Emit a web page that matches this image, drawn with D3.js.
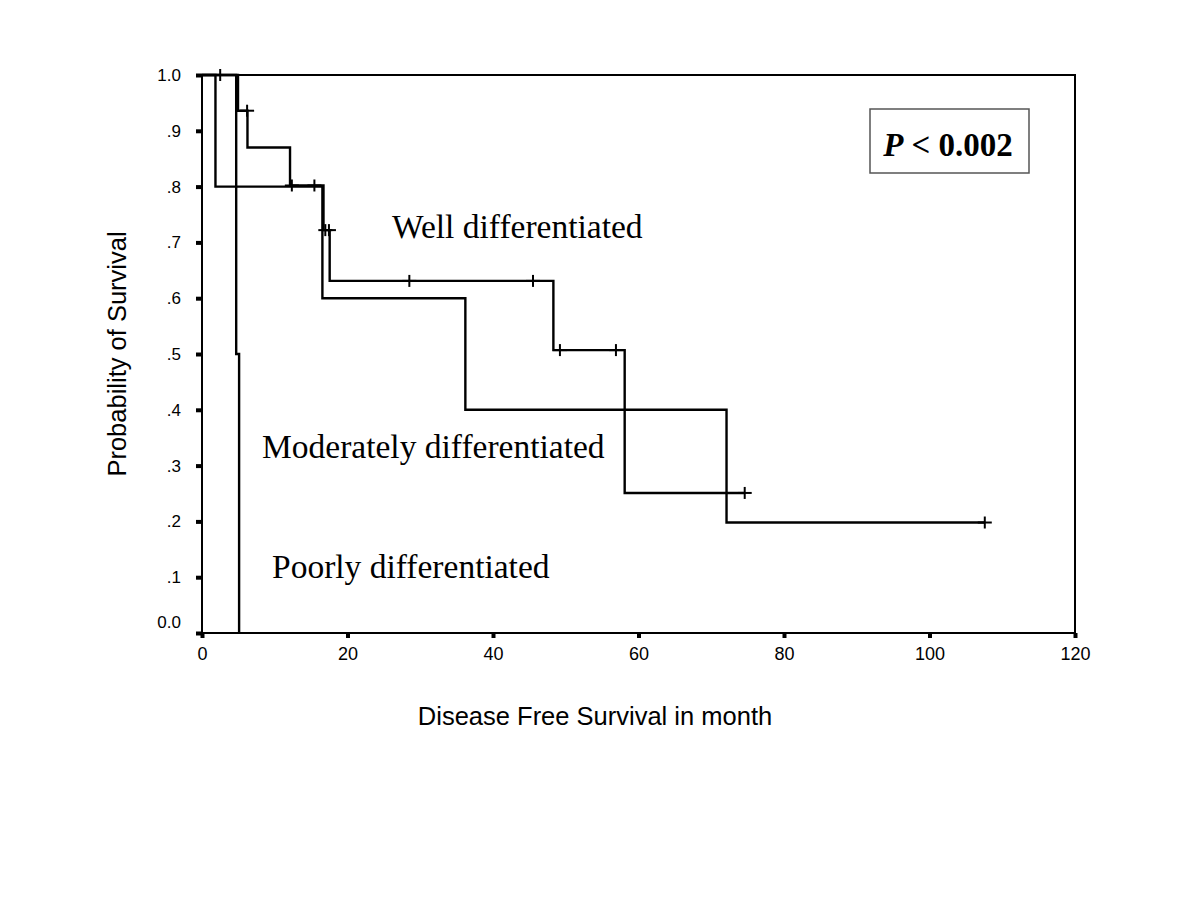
<!DOCTYPE html>
<html>
<head>
<meta charset="utf-8">
<script src="https://cdn.jsdelivr.net/npm/d3@7"></script>
<style>
  body { margin: 0; background: #fff; }
  svg { display: block; }
</style>
</head>
<body>
<svg id="chart" width="1200" height="900"></svg>
<script>
// ---- data (months, survival probability) ----
const xTicks = [0, 20, 40, 60, 80, 100, 120];
const yTicks = [0, 0.1, 0.2, 0.3, 0.4, 0.5, 0.6, 0.7, 0.8, 0.9, 1.0];
const yTickLabels = ["0.0", ".1", ".2", ".3", ".4", ".5", ".6", ".7", ".8", ".9", "1.0"];

const wellTimes = [0, 4.95, 6.25, 12.1, 16.7, 17.55, 48.3, 58.1];
const wellSurv  = [1.0, 0.936, 0.870, 0.802, 0.722, 0.631, 0.507, 0.251];
const wellEnd = 74.6;
const wellCensored = [2.5, 6.2, 12.35, 15.45, 16.95, 17.45, 28.5, 45.5, 49.2, 56.9, 74.6];

const modTimes = [0, 1.85, 16.55, 36.2, 72.1];
const modSurv  = [1.0, 0.80, 0.60, 0.40, 0.198];
const modEnd = 107.6;
const modCensored = [107.6];

const poorTimes = [0, 4.7, 5.1];
const poorSurv  = [1.0, 0.5, 0.0];
const poorEnd = 5.1;
const poorCensored = [];

const groupLabels = ["Well differentiated", "Moderately differentiated", "Poorly differentiated"];
const pText = ["P", " < 0.002"];
const xTitle = "Disease Free Survival in month";
const yTitle = "Probability of Survival";

// ---- layout ----
const svg = d3.select("#chart");
const mLeft = 202, mRight = 1075, mTop = 75, mBottom = 633;
const x = d3.scaleLinear().domain([0, 120]).range([mLeft, mRight]);
const y = d3.scaleLinear().domain([0, 1]).range([mBottom, mTop]);
const sans = "Arial, 'Liberation Sans', sans-serif";
const serif = "'Times New Roman', 'Liberation Serif', serif";

function series(times, surv, end, cens) {
  const pts = times.map((t, i) => [t, surv[i]]);
  pts.push([end, surv[surv.length - 1]]);
  const at = t => { let v = surv[0]; times.forEach((tt, i) => { if (tt <= t) v = surv[i]; }); return v; };
  return { pts, cens: cens.map(t => [t, at(t)]) };
}
const all = [
  series(wellTimes, wellSurv, wellEnd, wellCensored),
  series(modTimes, modSurv, modEnd, modCensored),
  series(poorTimes, poorSurv, poorEnd, poorCensored)
];

// frame
svg.append("rect")
  .attr("x", mLeft).attr("y", mTop)
  .attr("width", mRight - mLeft).attr("height", mBottom - mTop)
  .attr("fill", "none").attr("stroke", "#000").attr("stroke-width", 2);

// axes
const yAxis = d3.axisLeft(y).tickValues(yTicks).tickSize(6).tickPadding(15)
  .tickFormat((d, i) => yTickLabels[i]);
const gy = svg.append("g").attr("transform", `translate(${mLeft},0)`).call(yAxis);
gy.select(".domain").remove();
gy.selectAll(".tick line").attr("stroke", "#000").attr("stroke-width", 4);
gy.selectAll(".tick text")
  .attr("font-family", sans).attr("font-size", 17).attr("fill", "#000")
  .attr("dy", (d) => d === 0 ? "-0.3em" : "0.32em");

const xAxis = d3.axisBottom(x).tickValues(xTicks).tickSize(5).tickPadding(9);
const gx = svg.append("g").attr("transform", `translate(0,${mBottom})`).call(xAxis);
gx.select(".domain").remove();
gx.selectAll(".tick line").attr("stroke", "#000").attr("stroke-width", 4);
gx.selectAll(".tick text")
  .attr("font-family", sans).attr("font-size", 18).attr("fill", "#000");

// curves
const line = d3.line().x(d => x(d[0])).y(d => y(d[1])).curve(d3.curveStepAfter);
all.forEach(s => {
  svg.append("path").attr("d", line(s.pts))
    .attr("fill", "none").attr("stroke", "#000").attr("stroke-width", 2.4);
  s.cens.forEach(c => {
    const cx = x(c[0]), cy = y(c[1]);
    svg.append("line").attr("x1", cx).attr("x2", cx).attr("y1", cy - 6).attr("y2", cy + 6)
      .attr("stroke", "#000").attr("stroke-width", 2);
    svg.append("line").attr("x1", cx - 7).attr("x2", cx + 7).attr("y1", cy).attr("y2", cy)
      .attr("stroke", "#000").attr("stroke-width", 2);
  });
});

// group labels
const labelPos = [[392, 238], [262, 458], [272, 578]];
groupLabels.forEach((t, i) => {
  svg.append("text").attr("x", labelPos[i][0]).attr("y", labelPos[i][1])
    .attr("font-family", serif).attr("font-size", 33.5).attr("fill", "#000").text(t);
});

// P box
svg.append("rect").attr("x", 870).attr("y", 109).attr("width", 159).attr("height", 64)
  .attr("fill", "#fff").attr("stroke", "#555").attr("stroke-width", 1.5);
const pt = svg.append("text").attr("x", 948).attr("y", 156).attr("text-anchor", "middle")
  .attr("font-family", serif).attr("font-size", 33).attr("font-weight", "bold").attr("fill", "#000");
pt.append("tspan").attr("font-style", "italic").text(pText[0]);
pt.append("tspan").text(pText[1]);

// axis titles
svg.append("text").attr("x", 595).attr("y", 725).attr("text-anchor", "middle")
  .attr("font-family", sans).attr("font-size", 25.5).attr("fill", "#000")
  .text(xTitle);
svg.append("text").attr("transform", "translate(126,354) rotate(-90)").attr("text-anchor", "middle")
  .attr("font-family", sans).attr("font-size", 25.5).attr("fill", "#000")
  .text(yTitle);
</script>
</body>
</html>
